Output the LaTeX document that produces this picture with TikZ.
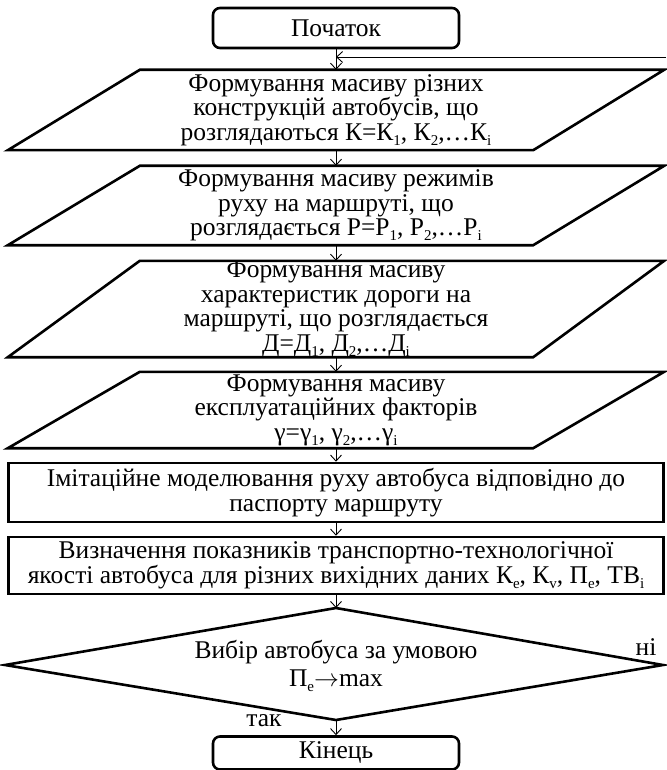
\documentclass[tikz,border=0pt]{standalone}
\usepackage{fontspec}
\setmainfont{Liberation Serif}
\usetikzlibrary{arrows.meta,calc}
% lowered small index, as in K_1
\newcommand\lo[1]{\raisebox{-0.2em}{\fontsize{15}{15}\selectfont #1}}
\begin{document}
\begin{tikzpicture}[x=1pt,y=-1pt,
  outline/.style={line width=2.6pt, line join=miter},
  txt/.style={align=center, font=\fontsize{25.5}{24.5}\selectfont, inner sep=0pt},
  arr/.style={line width=0.9pt, -{Straight Barb[length=6pt,width=11pt]}},
  lbl/.style={font=\fontsize{25.5}{24}\selectfont, inner sep=0pt},
]
\useasboundingbox (0,0) rectangle (666,770);

% terminators
\node[txt, draw, outline, rounded corners=7pt, minimum width=246pt, minimum height=40pt] (start) at (336,28) {Початок};
\node[txt, draw, outline, rounded corners=7pt, minimum width=246pt, minimum height=33pt] (end) at (336,753) {Кінець};

% input blocks (parallelograms): text nodes, outlines drawn below
\node[txt, minimum width=656pt, minimum height=80pt] (p1) at (336,110)
  {Формування масиву різних\\конструкцій автобусів, що\\розглядаються К=К\lo{1}, К\lo{2},…К\lo{i}};
\node[txt, minimum width=656pt, minimum height=79pt] (p2) at (336,205.5)
  {Формування масиву режимів\\руху на маршруті, що\\розглядається Р=Р\lo{1}, Р\lo{2},…Р\lo{i}};
\node[txt, minimum width=656pt, minimum height=96pt] (p3) at (336,309)
  {Формування масиву\\характеристик дороги на\\маршруті, що розглядається\\Д=Д\lo{1}, Д\lo{2},…Д\lo{i}};
\node[txt, minimum width=656pt, minimum height=76pt] (p4) at (336,410)
  {Формування масиву\\експлуатаційних факторів\\γ=γ\lo{1}, γ\lo{2},…γ\lo{i}};

\foreach \n in {p1,p2,p3,p4}
  \draw[outline] ($(\n.north west)+(132,0)$) -- (\n.north east)
    -- ($(\n.south east)+(-131,0)$) -- (\n.south west) -- cycle;

% process blocks
\node[txt, draw, outline, minimum width=655pt, minimum height=59pt] (r1) at (336,492.5)
  {Імітаційне моделювання руху автобуса відповідно до\\паспорту маршруту};
\node[txt, draw, outline, minimum width=655pt, minimum height=57pt] (r2) at (336,565.5)
  {Визначення показників транспортно-технологічної\\якості автобуса для різних вихідних даних К\lo{e}, К\lo{v}, П\lo{e}, ТВ\lo{i}};

% decision
\node[txt] (d) at (336,666) {Вибір автобуса за умовою\\[4pt]П\lo{e}$\rightarrow$max};
\coordinate (dT) at (336,608);
\coordinate (dB) at (336,720);
\coordinate (dL) at (5,665);
\coordinate (dR) at (663,665);
\draw[outline] (dT) -- (dR) -- (dB) -- (dL) -- cycle;

\node[lbl] (yes) at (264,721) {так};
\node[lbl] (no) at (646,647) {ні};

% connectors
\coordinate (j) at (336,57);
\coordinate (loopin) at (666,57);
\draw[arr] (start) -- (p1);
\draw[arr] (loopin) -- (j);
\draw[arr] (p1) -- (p2);
\draw[arr] (p2) -- (p3);
\draw[arr] (p3) -- (p4);
\draw[arr] (p4) -- (r1);
\draw[arr] (r1) -- (r2);
\draw[arr] (r2) -- (dT);
\draw[arr] (dB) -- (end);
\end{tikzpicture}
\end{document}
